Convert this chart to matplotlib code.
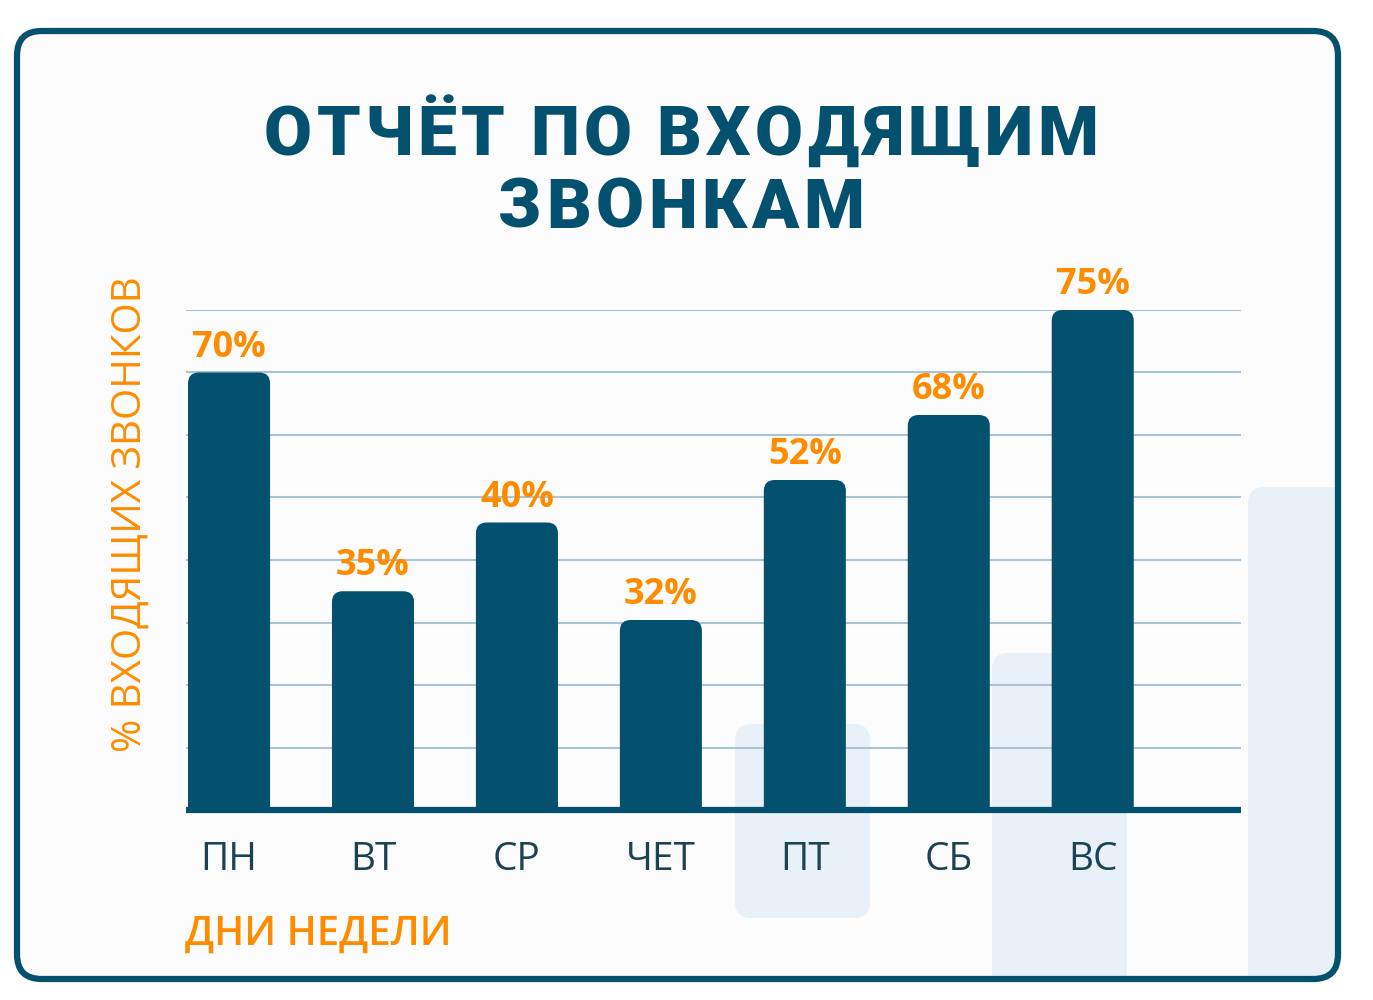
import matplotlib.pyplot as plt
from matplotlib.patches import FancyBboxPatch

# Data (bar heights follow the grid, labels as printed)
days = ['ПН', 'ВТ', 'СР', 'ЧЕТ', 'ПТ', 'СБ', 'ВС']
heights = [70, 35, 46, 30.4, 52.8, 63.2, 80]
value_labels = ['70%', '35%', '40%', '32%', '52%', '68%', '75%']
grid_levels = [10, 20, 30, 40, 50, 60, 70, 80]

title_lines = ['ОТЧЁТ ПО ВХОДЯЩИМ', 'ЗВОНКАМ']
ylabel = '% ВХОДЯЩИХ ЗВОНКОВ'
xlabel = 'ДНИ НЕДЕЛИ'

# Colours
DARK = '#03506f'
ORANGE = '#ff8c00'
TICK = '#1c4352'
GRID = '#a9c4d2'
DECOR = '#e8f1f7'
PANEL = '#fcfcfc'

W, H = 1373, 1000
fig = plt.figure(figsize=(W / 100, H / 100), dpi=100)
fig.patch.set_facecolor('white')


def fx(px):
    return px / W


def fy(py):
    return 1 - py / H


# panel with rounded border
panel = FancyBboxPatch((fx(17), fy(979)), fx(1338) - fx(17), fy(31) - fy(979),
                       boxstyle='round,pad=0,rounding_size=0.018',
                       transform=fig.transFigure, facecolor=PANEL,
                       edgecolor='none', zorder=0, mutation_aspect=W / H)
fig.patches.append(panel)

# light decorative blocks behind the chart
decor = [
    (735, 724, 870, 918),
    (992, 653, 1127, 1040),
    (1248, 487, 1400, 1040),
]
for x0, y0, x1, y1 in decor:
    r = FancyBboxPatch((fx(x0), fy(y1)), fx(x1) - fx(x0), fy(y0) - fy(y1),
                       boxstyle='round,pad=0,rounding_size=0.012',
                       transform=fig.transFigure, facecolor=DECOR,
                       edgecolor='none', zorder=0.5, mutation_aspect=W / H)
    fig.patches.append(r)
    r.set_clip_path(panel)

border = FancyBboxPatch((fx(17), fy(979)), fx(1338) - fx(17), fy(31) - fy(979),
                        boxstyle='round,pad=0,rounding_size=0.018',
                        transform=fig.transFigure, facecolor='none',
                        edgecolor=DARK, linewidth=4.5, zorder=5,
                        mutation_aspect=W / H)
fig.patches.append(border)

# chart axes
ax = fig.add_axes([fx(186), fy(810), fx(1241) - fx(186), fy(310) - fy(810)])
ax.set_zorder(1)
ax.set_facecolor('none')
ax.set_xlim(-0.299, 7.03)
ax.set_ylim(0, 80)
for s in ax.spines.values():
    s.set_visible(False)

for g in grid_levels:
    ax.axhline(g, color=GRID, linewidth=1.5, zorder=1)

x = range(len(days))
bw = 0.57
bars = ax.bar(x, heights, width=bw, color='none', edgecolor='none')
# redraw bars with rounded tops (bottom extends under the axis line)
aspect = (80 / 500) / (7.329 / 1055)
for rect in bars:
    bx, by = rect.get_x(), rect.get_y()
    bh = rect.get_height()
    p = FancyBboxPatch((bx, by - 3), rect.get_width(), bh + 3,
                       boxstyle='round,pad=0,rounding_size=0.075',
                       mutation_aspect=aspect, facecolor=DARK,
                       edgecolor='none', zorder=2)
    ax.add_patch(p)

for xi, h, lab in zip(x, heights, value_labels):
    ax.annotate(lab, (xi, h), xytext=(0, 11.5), textcoords='offset points',
                ha='center', va='baseline', color=ORANGE, fontsize=26,
                fontweight='bold', family='Open Sans', annotation_clip=False)

ax.axhline(0, color=DARK, linewidth=4.5, zorder=3, solid_capstyle='butt',
           clip_on=False)

ax.set_yticks([])
ax.set_xticks(list(x), days)
ax.tick_params(axis='x', length=0, pad=22, labelsize=28, labelcolor=TICK)
for t in ax.get_xticklabels():
    t.set_family('Open Sans')

fig.text(fx(130), fy(514), ylabel, rotation=90, ha='center', va='center',
         color=ORANGE, fontsize=29, fontweight='medium', family='Open Sans')
fig.text(fx(185), fy(945), xlabel, ha='left', va='baseline', color=ORANGE,
         fontsize=29, fontweight='semibold', family='Open Sans')

# title with extra letter spacing, letters placed one by one
renderer = fig.canvas.get_renderer()
tracking = 4.5
tkw = dict(color=DARK, fontsize=50, fontweight='black', family='Roboto',
           va='baseline', ha='left')
for line, base in zip(title_lines, [155, 228]):
    widths = []
    for ch in line:
        t = fig.text(0, 0, ch, **tkw)
        widths.append(t.get_window_extent(renderer).width if ch != ' '
                      else 16)
        t.remove()
    total = sum(widths) + tracking * (len(line) - 1)
    cx = 681 - total / 2
    for ch, w in zip(line, widths):
        if ch != ' ':
            fig.text(fx(cx), fy(base), ch, **tkw)
        cx += w + tracking

fig.savefig('out.png', dpi=100, facecolor='white')
